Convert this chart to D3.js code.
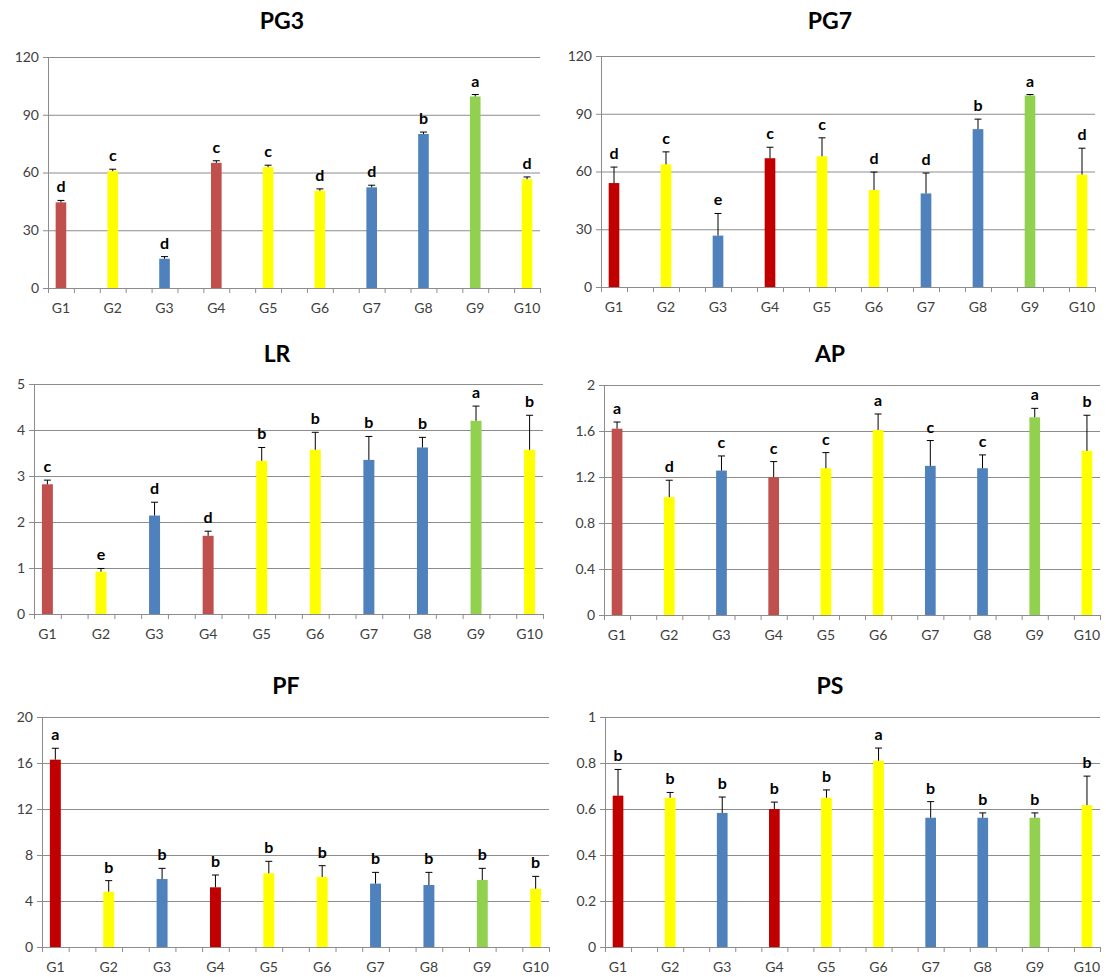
<!DOCTYPE html>
<html>
<head>
<meta charset="utf-8">
<script src="https://cdn.jsdelivr.net/npm/d3@7"></script>
<style>
  body { margin: 0; background: #fff; }
  svg { font-family: Lato, "Open Sans", sans-serif; }
  .title { font-weight: bold; font-size: 23px; fill: #000; }
  .letter { font-weight: bold; font-size: 16px; fill: #000; }
</style>
</head>
<body>
<div id="chart"></div>
<script>
// groups and bar colour classes
const groups = ["G1", "G2", "G3", "G4", "G5", "G6", "G7", "G8", "G9", "G10"];
const colorKeys = ["red", "yellow", "blue", "red", "yellow", "yellow", "blue", "blue", "green", "yellow"];

// PG3
const pg3Mean = [44.5, 60.7, 15.2, 65.0, 62.8, 50.5, 52.3, 80.0, 99.5, 56.5];
const pg3Err = [1.0, 1.0, 1.1, 1.1, 1.0, 1.0, 1.1, 1.0, 1.0, 1.2];
const pg3Letters = ["d", "c", "d", "c", "c", "d", "d", "b", "a", "d"];
const pg3Ticks = [0, 30, 60, 90, 120];

// PG7
const pg7Mean = [54.0, 63.7, 26.7, 66.9, 67.9, 50.4, 48.6, 82.0, 99.5, 58.4];
const pg7Err = [8.3, 6.5, 11.5, 5.7, 9.6, 9.3, 10.6, 5.2, 0.5, 13.7];
const pg7Letters = ["d", "c", "e", "c", "c", "d", "d", "b", "a", "d"];
const pg7Ticks = [0, 30, 60, 90, 120];

// LR
const lrMean = [2.82, 0.92, 2.14, 1.70, 3.33, 3.57, 3.35, 3.62, 4.20, 3.57];
const lrErr = [0.09, 0.07, 0.29, 0.10, 0.29, 0.38, 0.51, 0.22, 0.32, 0.75];
const lrLetters = ["c", "e", "d", "d", "b", "b", "b", "b", "a", "b"];
const lrTicks = [0, 1, 2, 3, 4, 5];

// AP
const apMean = [1.62, 1.025, 1.256, 1.198, 1.276, 1.609, 1.297, 1.276, 1.719, 1.427];
const apErr = [0.058, 0.147, 0.127, 0.136, 0.136, 0.139, 0.22, 0.116, 0.078, 0.31];
const apLetters = ["a", "d", "c", "c", "c", "a", "c", "c", "a", "b"];
const apTicks = [0, 0.4, 0.8, 1.2, 1.6, 2];

// PF
const pfMean = [16.29, 4.81, 5.91, 5.19, 6.41, 6.09, 5.51, 5.39, 5.83, 5.07];
const pfErr = [0.99, 0.96, 0.93, 1.07, 1.04, 0.98, 0.98, 1.10, 1.01, 1.07];
const pfLetters = ["a", "b", "b", "b", "b", "b", "b", "b", "b", "b"];
const pfTicks = [0, 4, 8, 12, 16, 20];

// PS
const psMean = [0.658, 0.649, 0.583, 0.600, 0.649, 0.810, 0.562, 0.562, 0.562, 0.617];
const psErr = [0.114, 0.023, 0.069, 0.030, 0.034, 0.055, 0.070, 0.021, 0.021, 0.126];
const psLetters = ["b", "b", "b", "b", "b", "a", "b", "b", "b", "b"];
const psTicks = [0, 0.2, 0.4, 0.6, 0.8, 1];

const palettes = {
    light: {red: "#C0504D", yellow: "#FFFF00", blue: "#4F81BD", green: "#92D050"},
    dark: {red: "#C00000", yellow: "#FFFF00", blue: "#4F81BD", green: "#92D050"}
};

// panel layout (plot area box in page pixels, title centre)
const panels = [
    {title: "PG3", mean: pg3Mean, err: pg3Err, letters: pg3Letters, ticks: pg3Ticks, pal: "light",
     left: 48, top: 57, right: 540, bottom: 288, tx: 282, ty: 21},
    {title: "PG7", mean: pg7Mean, err: pg7Err, letters: pg7Letters, ticks: pg7Ticks, pal: "dark",
     left: 601, top: 56, right: 1095, bottom: 287, tx: 830, ty: 21},
    {title: "LR", mean: lrMean, err: lrErr, letters: lrLetters, ticks: lrTicks, pal: "light",
     left: 34, top: 384, right: 543, bottom: 614, tx: 277, ty: 354},
    {title: "AP", mean: apMean, err: apErr, letters: apLetters, ticks: apTicks, pal: "light",
     left: 604, top: 385, right: 1100, bottom: 615, tx: 830, ty: 354},
    {title: "PF", mean: pfMean, err: pfErr, letters: pfLetters, ticks: pfTicks, pal: "dark",
     left: 42, top: 717, right: 549, bottom: 947, tx: 286, ty: 686},
    {title: "PS", mean: psMean, err: psErr, letters: psLetters, ticks: psTicks, pal: "dark",
     left: 605, top: 717, right: 1100, bottom: 947, tx: 830, ty: 686}
];

const svg = d3.select("#chart").append("svg")
    .attr("width", 1106)
    .attr("height", 977);

const nSlots = groups.length * 2 - 1; // blank slot between every group

panels.forEach(p => {
    const w = p.right - p.left;
    const h = p.bottom - p.top;
    const g = svg.append("g").attr("transform", `translate(${p.left},${p.top})`);
    const colors = palettes[p.pal];

    const x = d3.scaleBand().domain(d3.range(nSlots)).range([0, w]).padding(0);
    const xEdge = d3.scaleLinear().domain([0, nSlots]).range([0, w]);
    const y = d3.scaleLinear().domain([0, d3.max(p.ticks)]).range([h, 0]);
    const barW = x.bandwidth() * 0.41;
    const cap = 7;

    // title
    svg.append("text")
        .attr("class", "title")
        .attr("x", p.tx)
        .attr("y", p.ty)
        .attr("dy", "0.35em")
        .attr("text-anchor", "middle")
        .text(p.title);

    // gridlines + y axis
    const yAxisG = g.append("g")
        .call(d3.axisLeft(y).tickValues(p.ticks).tickSize(-w).tickPadding(9)
            .tickFormat(d => d3.format("~g")(d)));
    yAxisG.select(".domain").remove();
    yAxisG.selectAll(".tick line").attr("stroke", "#8c8c8c");
    yAxisG.selectAll(".tick text")
        .attr("fill", "#404040")
        .style("font-size", "14px")
        .style("font-family", "Lato, sans-serif");
    yAxisG.selectAll(".tick").append("line")
        .attr("x1", -5).attr("x2", 0).attr("stroke", "#8c8c8c");

    // left axis line
    g.append("line")
        .attr("x1", 0.5).attr("x2", 0.5).attr("y1", 0).attr("y2", h)
        .attr("stroke", "#8c8c8c");

    // x axis with ticks on slot boundaries
    const xAxisG = g.append("g")
        .attr("transform", `translate(0,${h})`)
        .call(d3.axisBottom(xEdge).tickValues(d3.range(nSlots + 1)).tickSize(5).tickFormat(""));
    xAxisG.selectAll("line, path").attr("stroke", "#8c8c8c");

    g.selectAll(".xlabel")
        .data(groups)
        .join("text")
        .attr("class", "xlabel")
        .attr("x", (d, i) => x(i * 2) + x.bandwidth() / 2)
        .attr("y", h + 25)
        .attr("text-anchor", "middle")
        .attr("fill", "#404040")
        .style("font-size", "14px")
        .text(d => d);

    const data = groups.map((gr, i) => ({
        group: gr, i: i, mean: p.mean[i], err: p.err[i], letter: p.letters[i], color: colors[colorKeys[i]]
    }));

    const cx = d => x(d.i * 2) + x.bandwidth() / 2;

    // bars
    g.selectAll(".bar")
        .data(data)
        .join("rect")
        .attr("class", "bar")
        .attr("x", d => cx(d) - barW / 2)
        .attr("y", d => y(d.mean))
        .attr("width", barW)
        .attr("height", d => h - y(d.mean))
        .attr("fill", d => d.color);

    // error bars (upper only)
    g.selectAll(".err")
        .data(data)
        .join("line")
        .attr("class", "err")
        .attr("x1", cx).attr("x2", cx)
        .attr("y1", d => y(d.mean))
        .attr("y2", d => y(d.mean + d.err))
        .attr("stroke", "#000");

    g.selectAll(".cap")
        .data(data)
        .join("line")
        .attr("class", "cap")
        .attr("x1", d => cx(d) - cap / 2).attr("x2", d => cx(d) + cap / 2)
        .attr("y1", d => y(d.mean + d.err))
        .attr("y2", d => y(d.mean + d.err))
        .attr("stroke", "#000");

    // significance letters
    g.selectAll(".letter")
        .data(data)
        .join("text")
        .attr("class", "letter")
        .attr("x", cx)
        .attr("y", d => y(d.mean + d.err) - 8)
        .attr("text-anchor", "middle")
        .text(d => d.letter);
});
</script>
</body>
</html>
